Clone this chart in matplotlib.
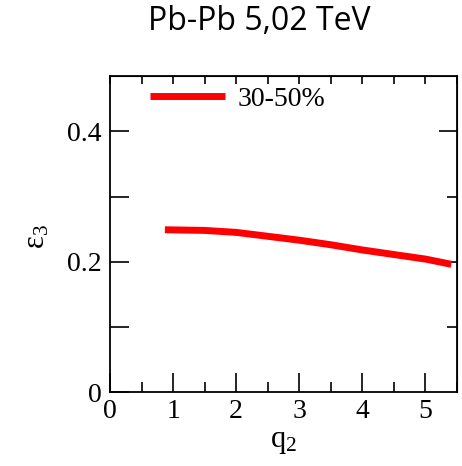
import matplotlib
matplotlib.use("Agg")
import matplotlib.pyplot as plt
from matplotlib.ticker import MultipleLocator, FixedLocator

# curve
q2 = [0.87, 1.5, 2.0, 2.5, 3.0, 3.5, 4.0, 4.5, 5.0, 5.41]
eps3 = [0.249, 0.248, 0.245, 0.239, 0.233, 0.226, 0.218, 0.211, 0.204, 0.196]
series_label = "30-50%"
title = "Pb-Pb 5,02 TeV"

W, H = 462, 466
plt.rcParams["font.family"] = ["Liberation Serif", "DejaVu Serif"]
plt.rcParams["mathtext.fontset"] = "custom"
plt.rcParams["mathtext.rm"] = "Liberation Serif"
plt.rcParams["mathtext.it"] = "Liberation Serif"

fig = plt.figure(figsize=(W / 100, H / 100), dpi=100)
left, right, top, bottom = 110, 457, 76, 392
ax = fig.add_axes([left / W, 1 - bottom / H, (right - left) / W, (bottom - top) / H])

ax.plot(q2, eps3, color="#ff0000", lw=5, solid_capstyle="butt", label=series_label)

ax.set_xlim(0, 5.5)
ax.set_ylim(0, 0.485)

ax.xaxis.set_major_locator(MultipleLocator(1))
ax.xaxis.set_minor_locator(MultipleLocator(0.5))
ax.yaxis.set_major_locator(FixedLocator([0, 0.2, 0.4]))
ax.yaxis.set_minor_locator(FixedLocator([0.1, 0.3]))
ax.set_yticklabels(["0", "0.2", "0.4"])

ax.tick_params(axis="x", which="major", direction="in", length=14, width=1.2,
               labelsize=20, pad=5)
ax.tick_params(axis="x", which="minor", direction="in", length=7, width=1.2)
ax.tick_params(axis="y", which="both", direction="in", length=14, width=1.2,
               labelsize=20, pad=6)
for s in ax.spines.values():
    s.set_linewidth(1.3)

# top and right ticks have their own lengths
top_ax = ax.secondary_xaxis("top")
top_ax.xaxis.set_major_locator(MultipleLocator(1))
top_ax.xaxis.set_minor_locator(MultipleLocator(0.5))
top_ax.tick_params(which="both", direction="in", length=6, width=1.2, labeltop=False)
right_ax = ax.secondary_yaxis("right")
right_ax.yaxis.set_major_locator(FixedLocator([0.2, 0.4]))
right_ax.yaxis.set_minor_locator(FixedLocator([0.1, 0.3]))
right_ax.tick_params(which="major", direction="in", length=13, width=1.2, labelright=False)
right_ax.tick_params(which="minor", direction="in", length=7, width=1.2)

ax.set_xlabel("q$_2$", fontsize=22)
ax.xaxis.set_label_coords(0.5, -0.11)
fig.text(37 / W, 1 - 237 / H, "ε$_3$", rotation=90, fontsize=22, ha="center", va="center")

ax.legend(loc="center left", bbox_to_anchor=(150 / W, 1 - 99 / H),
          bbox_transform=fig.transFigure, frameon=False, fontsize=20,
          handlelength=2.7, handletextpad=0.45, borderpad=0, borderaxespad=0)

fig.text(259 / W, 1 - 22 / H, title, fontsize=23, family="Open Sans",
         ha="center", va="center")

fig.savefig("out.png", dpi=100)
